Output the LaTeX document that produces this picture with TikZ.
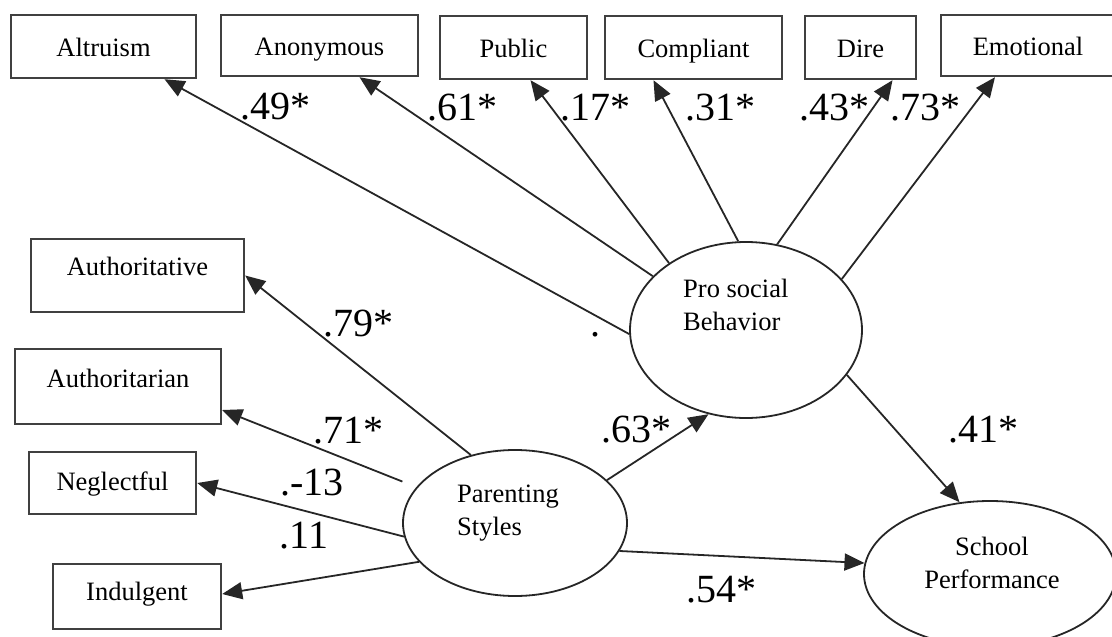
\documentclass[tikz,border=0pt]{standalone}
\usepackage{fontspec}
\setmainfont{Liberation Serif}
\usetikzlibrary{shapes.geometric,arrows.meta}

\begin{document}
\begin{tikzpicture}[x=1pt, y=-1pt,
    obsbox/.style = {draw = black!75, line width = 2.4pt, fill = white, inner sep = 0pt, text height = 20pt, text depth = 0pt, font = \fontsize{26.5}{33}\selectfont},
    latent/.style = {ellipse, draw = black!85, line width = 1.8pt, fill = white, inner sep = 0pt},
    intext/.style = {inner sep = 0pt, font = \fontsize{26.5}{33}\selectfont},
    loading/.style = {-{Triangle[length = 20pt, width = 17pt]}, line width = 1.8pt, draw = black!85},
    coef/.style = {anchor = base, inner sep = 0pt, font = \fontsize{40}{48}\selectfont}]
    \useasboundingbox (0,0) rectangle (1112,637);
    \clip (0,0) rectangle (1112,637);

    % indicators of pro social behavior
    \node[obsbox, minimum width = 185pt, minimum height = 63pt] (altruism) at (103.5,46.5){Altruism};
    \node[obsbox, minimum width = 197pt, minimum height = 61pt] (anonymous) at (319.5,45.5){Anonymous};
    \node[obsbox, minimum width = 147pt, minimum height = 63pt] (public) at (513.5,47.5){Public};
    \node[obsbox, minimum width = 177pt, minimum height = 63pt] (compliant) at (693.5,47.5){Compliant};
    \node[obsbox, minimum width = 111pt, minimum height = 63pt] (dire) at (860.5,47.5){Dire};
    \node[obsbox, minimum width = 174pt, minimum height = 61pt] (emotional) at (1028,45.5){Emotional};

    % indicators of parenting styles
    \node[obsbox, text depth = 21pt, minimum width = 213pt, minimum height = 73pt] (authoritative) at (137.5,275.5){Authoritative};
    \node[obsbox, text depth = 19pt, minimum width = 206pt, minimum height = 75pt] (authoritarian) at (118,386.5){Authoritarian};
    \node[obsbox, text depth = 6pt, minimum width = 167pt, minimum height = 62pt] (neglectful) at (112.5,483){Neglectful};
    \node[obsbox, text depth = 13pt, minimum width = 168pt, minimum height = 65pt] (indulgent) at (137,596.5){Indulgent};

    % latent variables
    \node[latent, minimum width = 232pt, minimum height = 176pt] (psb) at (746,330){};
    \node[intext, anchor = north west, align = left] (psbtext) at (683,279){Pro social\\Behavior};
    \node[latent, minimum width = 224pt, minimum height = 146pt] (ps) at (515,523){};
    \node[intext, anchor = north west, align = left] (pstext) at (457,485){Parenting\\Styles};
    \node[latent, minimum width = 252pt, minimum height = 146pt] (sp) at (990,574){};
    \node[intext, anchor = north, align = center] (sptext) at (992,537){School\\Performance};

    % loadings
    \draw[loading] (psb.182) -- ([xshift = 61pt]altruism.south);
    \draw[loading] (psb.150) -- ([xshift = 40pt]anonymous.south);
    \draw[loading] (psb.139) -- ([xshift = 17pt]public.south);
    \draw[loading] (psb.95) -- ([xshift = -40pt]compliant.south);
    \draw[loading] (psb.70) -- ([xshift = 32pt]dire.south);
    \draw[loading] (psb.28) -- ([xshift = -33pt]emotional.south);
    \draw[loading] (ps.123) -- (authoritative.east);
    \draw[loading, shorten <= 15pt] (ps.160) -- ([yshift = -23.5pt]authoritarian.east);
    \draw[loading] (ps.187) -- (neglectful.east);
    \draw[loading] (ps.202) -- ([yshift = 2.5pt]indulgent.east);

    % structural paths
    \draw[loading] (ps.25) -- (psb.246);
    \draw[loading] (ps.345) -- (sp.175);
    \draw[loading] (psb.336) -- (sp.113);

    % coefficients
    \node[coef] (c49) at (275,119){.49*};
    \node[coef] (c61) at (462,120){.61*};
    \node[coef] (c17) at (595,120){.17*};
    \node[coef] (c31) at (720,120){.31*};
    \node[coef] (c43) at (834,120){.43*};
    \node[coef] (c73) at (925,120){.73*};
    \node[coef] (c79) at (358,336){.79*};
    \node[coef] (c71) at (348,443){.71*};
    \node[coef] (c13) at (312,495){.-13};
    \node[coef] (c11) at (304,548){.11};
    \node[coef] (c63) at (636,442){.63*};
    \node[coef] (c41) at (983,442){.41*};
    \node[coef] (c54) at (721,602){.54*};
    \node[coef] (cdot) at (595,336){.};
\end{tikzpicture}
\end{document}
